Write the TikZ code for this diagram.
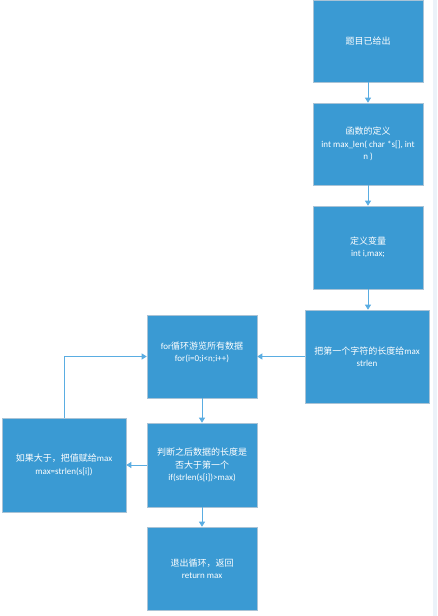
\documentclass[tikz,border=0pt]{standalone}
\usepackage{fontspec}
\setmainfont{Carlito}
\newfontfamily\cjk{Noto Sans CJK SC}
\usetikzlibrary{arrows.meta}
\definecolor{boxfill}{HTML}{3A9AD3}
\definecolor{boxline}{HTML}{A9C3D6}
\definecolor{arrowc}{HTML}{5AADE2}
\definecolor{strip}{HTML}{ECF2F9}
\tikzset{
  x=1pt, y=1pt,
  flowbox/.style={draw=boxline, line width=0.6pt, fill=boxfill, text=white,
    minimum width=110pt, align=center, font=\fontsize{9}{12.5}\selectfont, inner sep=1pt},
  conn/.style={draw=arrowc, line width=0.8pt, -{Triangle[width=6pt,length=5pt]}}
}
\begin{document}
\begin{tikzpicture}
\useasboundingbox (0,0) rectangle (437,-616);
\fill[strip] (433,0) rectangle (437,-616);
\node[flowbox, minimum height=82pt] (b1) at (368,-41) {{\cjk 题目已给出}};
\node[flowbox, minimum height=82pt] (b2) at (368,-144) {{\cjk 函数的定义}\\int max\_len( char *s[], int\\n )};
\node[flowbox, minimum height=83pt] (b3) at (368,-247.5) {{\cjk 定义变量}\\int i,max;};
\node[flowbox, minimum width=124pt, minimum height=93pt] (b4) at (367,-356.5) {{\cjk 把第一个字符的长度给}max\\strlen};
\node[flowbox, minimum height=83pt, text depth=10pt] (b5) at (202,-356.5) {for{\cjk 循环游览所有数据}\\for(i=0;i<n;i++)};
\node[flowbox, minimum height=84pt] (b6) at (202,-465) {{\cjk 判断之后数据的长度是}\\{\cjk 否大于第一个}\\if(strlen(s[i])>max)};
\node[flowbox, minimum height=83pt] (b7) at (202,-568.5) {{\cjk 退出循环，返回}\\return max};
\node[flowbox, minimum width=124pt, minimum height=94pt] (b8) at (64,-465) {{\cjk 如果大于，把值赋给}max\\max=strlen(s[i])};
\draw[conn] (b1) -- (b2);
\draw[conn] (b2) -- (b3);
\draw[conn] (b3) -- (b4.north -| b3);
\draw[conn] (b4.west) -- (b5.east);
\draw[conn] (b5) -- (b6);
\draw[conn] (b6) -- (b7);
\draw[conn] (b6.west) -- (b8.east);
\draw[conn] (b8.north) |- (b5.west);
\end{tikzpicture}
\end{document}
